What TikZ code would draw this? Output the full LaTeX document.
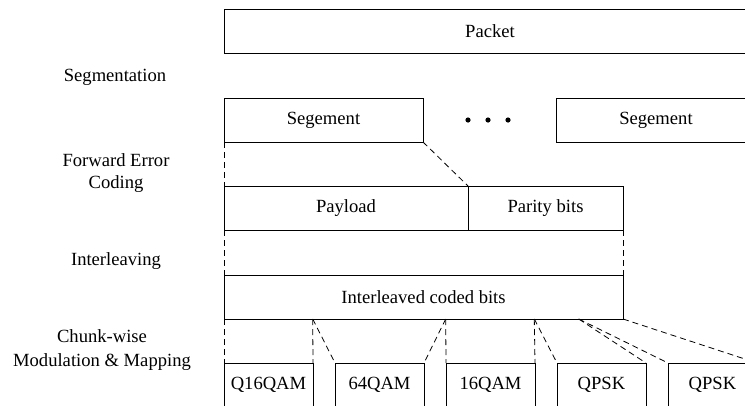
\documentclass[tikz,border=0pt]{standalone}
\usepackage{fontspec}
\setmainfont{Liberation Serif}
\usepackage{tikz}
\usetikzlibrary{positioning}
\tikzset{
  blockbox/.style={
    rectangle, draw=black, line width=0.9pt,
    minimum width=#1, minimum height=44pt,
    inner sep=0pt, outer sep=0pt, anchor=north west,
    font=\fontsize{18.6}{22}\selectfont
  },
  blockbox/.default=89pt,
  splitline/.style={
    dash pattern=on 6pt off 4pt, line width=0.8pt
  },
  steplabel/.style={
    font=\fontsize{18.6}{#1}\selectfont, align=center, inner sep=0pt
  },
  steplabel/.default=22pt,
}

\begin{document}
\begin{tikzpicture}[x=1pt,y=-1pt]
  \useasboundingbox (0,0) rectangle (745,405);
  \clip (0,0) rectangle (745,405);

  % Packet and its segments
  \node[blockbox=532pt] (packet) at (224,9) {Packet};
  \node[blockbox=199pt, below right=45pt and 0pt of packet.south west] (seg1) {Segement};
  \node[blockbox=200pt, right=133pt of seg1] (seg2) {Segement};
  \foreach \dx in {0,20,40}
    \fill ([xshift=\dx pt+45pt]seg1.east) circle (2.6pt);

  % Coded block
  \node[blockbox=244pt, below right=44pt and 0pt of seg1.south west] (payload) {Payload};
  \node[blockbox=155pt, right=0pt of payload] (parity) {Parity bits};
  \draw[splitline] (seg1.south west) -- (payload.north west);
  \draw[splitline] (seg1.south east) -- (parity.north west);

  % Interleaved bits
  \node[blockbox=399pt, below right=45pt and 0pt of payload.south west] (ilv) {Interleaved coded bits};
  \draw[splitline] (payload.south west) -- (ilv.north west);
  \draw[splitline] (parity.south east) -- (ilv.north east);

  % Chunks and their modulation
  \node[blockbox, below right=44pt and 0pt of ilv.south west] (q16) {Q16QAM};
  \node[blockbox, right=22pt of q16] (m64) {64QAM};
  \node[blockbox, right=22pt of m64] (m16) {16QAM};
  \node[blockbox, right=22pt of m16] (qpsk1) {QPSK};
  \node[blockbox, right=22pt of qpsk1] (qpsk2) {QPSK};

  \coordinate (cut1) at ([xshift=88.7pt]ilv.south west);
  \coordinate (cut2) at ([xshift=221.7pt]ilv.south west);
  \coordinate (cut3) at ([xshift=310.3pt]ilv.south west);
  \coordinate (cut4) at ([xshift=354.7pt]ilv.south west);

  \draw[splitline] (ilv.south west) -- (q16.north west);
  \draw[splitline] (cut1) -- (q16.north east);
  \draw[splitline] (cut1) -- (m64.north west);
  \draw[splitline] (cut2) -- (m64.north east);
  \draw[splitline] (cut2) -- (m16.north west);
  \draw[splitline] (cut3) -- (m16.north east);
  \draw[splitline] (cut3) -- (qpsk1.north west);
  \draw[splitline] (cut4) -- (qpsk1.north east);
  \draw[splitline] (cut4) -- (qpsk2.north west);
  \draw[splitline] (ilv.south east) -- (qpsk2.north east);

  % Processing steps
  \node[steplabel] (lseg) at (115,77) {Segmentation};
  \node[steplabel] (lfec) at (116,173) {Forward Error\\Coding};
  \node[steplabel] (lilv) at (116,261) {Interleaving};
  \node[steplabel=24pt] (lmod) at (102,350) {Chunk-wise\\Modulation \& Mapping};
\end{tikzpicture}
\end{document}
